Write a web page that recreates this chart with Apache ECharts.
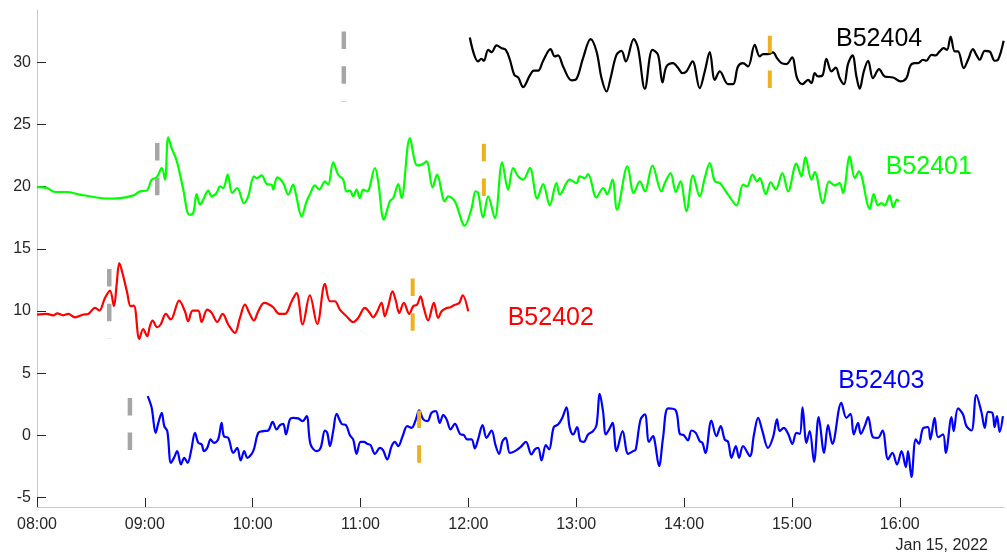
<!DOCTYPE html>
<html>
<head>
<meta charset="utf-8">
<script src="https://cdn.jsdelivr.net/npm/echarts@6/dist/echarts.min.js"></script>
<style>html,body{margin:0;padding:0;background:#fff}#c{width:1007px;height:559px}</style>
</head>
<body>
<div id="c"></div>
<script>
// x values: minutes after 08:00 on Jan 15, 2022
const xTickValues = [0, 60, 120, 180, 240, 300, 360, 420, 480];
const xTickLabels = ['08:00', '09:00', '10:00', '11:00', '12:00', '13:00', '14:00', '15:00', '16:00'];
const yTickValues = [-5, 0, 5, 10, 15, 20, 25, 30];
const dateLabel = 'Jan 15, 2022';
const seriesNames = ['B52404', 'B52401', 'B52402', 'B52403'];

const b52404 = [[240.8,31.99],[245.4,30.07],[247.3,30.28],[248.6,30.12],[251,31.0],[252.9,30.81],[255.7,31.35],[258.5,31.13],[260.8,31.0],[263.1,30.2],[265.5,29.0],[267.7,28.78],[270.5,28.0],[274.2,28.94],[276.4,29.32],[278.8,29.32],[281.6,30.12],[285.7,31.05],[288.1,30.47],[289.9,30.55],[292.7,29.66],[297.4,28.54],[300.2,28.67],[303.8,30.33],[308,31.86],[311.3,30.87],[314.1,28.72],[316.9,27.65],[319.1,28.72],[322.4,30.6],[325.2,30.92],[327.6,30.07],[332,31.86],[334.4,31.13],[338.2,27.87],[342.4,31.0],[345.5,30.6],[348,28.38],[350.2,29.66],[353.9,29.93],[356.7,29.53],[359.1,29.12],[361.3,29.26],[364.7,30.07],[368.7,27.92],[371.5,29.26],[374.3,30.81],[377.1,28.59],[379.9,29.26],[384.5,28.24],[387.3,28.24],[390,29.66],[392.8,29.93],[395.6,29.66],[399.3,31.4],[402.1,30.47],[404,30.65],[406.7,30.65],[409.5,30.79],[411.7,30.33],[414.2,29.93],[417,29.85],[420.1,30.39],[422.9,28.72],[425.9,28.24],[429,28.59],[430.9,28.32],[432.7,29.12],[434.5,28.86],[437,28.94],[439.2,30.28],[442,29.26],[444.4,29.58],[446.6,28.72],[449,28.24],[451.2,29.85],[453.7,30.55],[455.9,28.86],[457.7,27.87],[460,29.26],[462.4,30.12],[465.1,28.72],[468.5,29.45],[471.6,28.86],[476.3,28.78],[480.4,28.46],[483.7,28.72],[485.9,29.72],[488.3,29.93],[490.2,29.93],[492.9,30.2],[494.8,30.12],[497.6,30.6],[500,30.55],[502.2,30.87],[504.4,31.13],[506.3,31.0],[508.3,32.07],[510.6,30.87],[512.4,30.87],[515.6,29.53],[518,30.2],[520.7,31.05],[522.6,30.6],[524.5,30.2],[527.3,30.92],[530,30.87],[532.8,30.12],[534.7,30.2],[537.8,31.73]];

const b52401 = [[0,19.97],[5.4,19.9],[10,19.57],[16.5,19.57],[23.9,19.36],[35,19.09],[42.4,19.04],[53.6,19.3],[57.3,19.62],[61,19.68],[63.8,20.56],[66.6,20.75],[69.4,21.5],[71.2,20.56],[73,23.96],[74.9,23.1],[77.7,22.09],[81.4,19.76],[84.7,17.75],[86.9,17.88],[88.8,19.4],[90.7,18.55],[92.5,18.96],[95.3,19.68],[97.2,19.22],[99.9,19.49],[101.8,20.02],[103.6,19.89],[106.1,20.96],[108.6,19.49],[111.4,19.89],[115.1,18.68],[117.5,19.22],[120.7,20.83],[122.2,20.69],[125,20.91],[127.8,20.21],[130.5,20.16],[131.4,19.76],[133.7,20.75],[137,20.29],[139.8,19.36],[142.5,20.16],[144.1,19.36],[147.2,17.61],[150,18.82],[151.8,19.36],[154.6,20.1],[157,19.76],[160.2,20.43],[162,20.16],[164.8,21.95],[167.6,20.96],[170.4,20.56],[172.2,19.62],[174.1,19.68],[175.9,19.22],[177.8,19.76],[179.6,19.09],[181.5,19.76],[183.7,19.62],[188,21.5],[189.8,20.43],[193,17.35],[196.3,18.82],[198.2,19.09],[201,20.21],[202.8,19.09],[207.5,23.9],[211.5,21.71],[214,21.77],[216.7,22.03],[220.1,19.94],[222.6,20.96],[226.9,18.82],[228.8,19.22],[232.5,18.82],[238,16.87],[241.8,18.28],[244,19.62],[245.4,19.49],[248.2,17.53],[251,19.22],[254.7,17.48],[258.8,21.95],[262.1,19.76],[264.9,21.5],[267.7,20.83],[270.5,20.56],[274.2,21.5],[278.3,19.04],[281.6,20.21],[285.3,18.5],[289,20.29],[290.9,19.36],[296.4,20.56],[300.2,20.29],[302,20.83],[304.8,20.69],[306.6,21.01],[311.3,19.14],[315,19.89],[317.2,19.4],[320.2,20.56],[322.7,18.15],[328.5,21.63],[332,19.49],[335.4,20.43],[338.2,19.62],[342.4,21.69],[347.4,19.62],[349.3,20.29],[352.5,21.09],[355.4,19.57],[358,20.43],[361.3,18.02],[365,20.91],[368.7,19.22],[371.5,20.69],[374.3,21.9],[377.1,20.43],[379.9,20.29],[382.6,19.76],[384.5,19.36],[389.2,18.5],[392.8,20.16],[395,20.02],[398.1,20.96],[400.6,20.43],[402.1,20.69],[405.5,19.4],[408.2,20.35],[411,19.76],[414.7,21.09],[417.9,19.62],[422.5,21.85],[425.3,20.83],[427.5,22.38],[430.9,20.56],[432.7,21.17],[437.3,18.68],[440.7,20.43],[443.8,20.1],[446.6,20.29],[448.4,19.49],[452.2,22.43],[455,20.69],[457.3,21.23],[463.3,18.23],[465.5,19.4],[467.9,18.5],[469.8,18.68],[471.6,18.5],[474.4,19.3],[476.3,18.34],[478.5,18.96],[479.6,18.82]];

const b52402 = [[0,9.72],[5.4,9.77],[9.1,9.66],[11.3,9.82],[14.6,9.66],[17.4,9.77],[21.1,9.5],[25.8,9.72],[28.5,9.77],[32.3,10.25],[34.7,10.04],[37.8,11.05],[40.6,11.65],[42.8,10.39],[44.3,12.13],[45.8,13.86],[48,12.8],[50.2,11.45],[52.1,10.39],[53.9,10.44],[56.9,7.76],[59.1,8.56],[61.3,7.98],[62.8,8.78],[64.3,9.24],[66.9,8.7],[68.8,8.92],[71.7,9.77],[74.4,9.32],[79.1,10.84],[82.3,9.98],[84.1,9.18],[86.6,10.04],[89.7,10.04],[91.6,9.12],[94.7,10.12],[97.2,9.85],[100.3,9.12],[103.3,9.77],[106.4,8.92],[110.1,8.24],[112.9,9.45],[115.7,10.52],[118.1,9.85],[120.7,9.24],[123.1,9.98],[126.4,10.65],[128.6,10.57],[131.4,10.31],[134.8,9.77],[137.9,9.77],[141.7,10.79],[144.4,11.45],[147.8,8.92],[151.8,11.27],[155.9,8.96],[160.2,12.18],[163,10.79],[165.7,10.79],[168.5,10.12],[172.2,9.58],[175.9,9.12],[178.7,9.45],[182.4,10.25],[184.8,9.93],[187,9.5],[188.9,9.85],[191.7,10.65],[193.5,9.58],[195.4,10.39],[197.8,11.59],[199.7,10.79],[201.5,9.85],[204.1,10.65],[207.1,9.77],[209.3,10.39],[211.5,10.52],[213.4,11.19],[215.2,10.25],[217.6,9.24],[220.8,10.65],[223.2,9.45],[225.1,9.98],[227.9,10.25],[230.1,10.31],[231.9,10.47],[234.9,10.65],[236.8,11.27],[239.9,9.98]];

const b52403 = [[61.6,3.16],[63.8,2.22],[66,0.21],[67.5,1.01],[69.4,1.82],[70.8,0.75],[72.5,0.35],[74.5,-2.2],[76.2,-1.8],[78,-1.26],[80.1,-2.33],[81.9,-1.8],[83.8,-2.2],[85.7,-1.26],[87.9,0.21],[89.7,-0.59],[91.6,-0.72],[92.9,-1.26],[94.7,-1.0],[96.6,-0.32],[98.4,-0.59],[100.8,-0.32],[102.7,1.01],[104,-0.06],[106.4,-0.19],[109.2,-1.4],[111.4,-1.0],[113.3,-2.01],[115.3,-1.26],[117,-1.8],[120.3,-1.26],[123.1,0.21],[125.9,0.35],[128.6,0.4],[131.1,1.09],[133.3,0.48],[135.2,0.83],[137,0.93],[138.5,0.08],[140.7,1.29],[142.5,1.41],[145.3,1.37],[147.8,1.15],[150,1.55],[152.2,-0.72],[155.6,-1.26],[157.8,-1.0],[160.2,0.4],[161.5,0.21],[163,-0.86],[164.8,0.35],[166.7,1.73],[169.5,0.93],[171.9,0.83],[174.1,0.02],[175.9,-0.32],[177.8,-1.48],[180,-0.51],[181.9,-0.51],[183.7,-0.67],[185.6,-0.78],[188,-1.48],[190.8,-1.0],[192.6,-1.2],[194.8,-1.93],[197.3,-0.86],[199.1,-0.51],[201,-0.86],[203.4,-0.06],[206,0.75],[208.4,0.61],[210.8,1.29],[212.6,2.01],[214.9,1.29],[217.3,1.15],[219.5,1.82],[221.9,1.95],[224.1,1.01],[226,1.63],[227.9,1.29],[230.1,0.48],[232.5,0.93],[235.3,0.13],[237.5,0.02],[239.3,-0.32],[241.8,-0.32],[243.6,-1.04],[245.4,-0.32],[247.9,0.83],[250.1,-0.19],[252.9,0.4],[255.1,-0.78],[257.1,-1.48],[259,-0.46],[260.8,-0.19],[263.1,-1.4],[265.9,-1.26],[269,-0.94],[272,-0.51],[275.1,-1.53],[277,-1.12],[278.8,-1.0],[280.7,-2.01],[283.1,-0.78],[284.9,-1.12],[287.5,0.67],[289.9,0.88],[292.2,1.41],[294.6,2.27],[296.4,0.61],[298.3,0.08],[300.5,0.67],[302.4,-0.46],[304.2,-0.51],[306.6,0.08],[309.4,0.35],[311.3,0.83],[313.1,3.34],[314.9,1.95],[316.5,0.08],[318.3,0.48],[320.2,1.01],[322.4,-1.26],[325.8,0.35],[328.9,-1.48],[331.7,-1.26],[333.1,-1.12],[335.8,1.29],[338.2,1.69],[340.5,-0.51],[342.8,-0.06],[343.7,-0.46],[346.1,-2.47],[348.3,-0.19],[351.1,2.17],[355.4,2.01],[357.6,0.13],[359.8,0.02],[362.2,-0.4],[364.1,0.4],[366.5,0.21],[368.7,-0.46],[370.2,-0.59],[371.9,-1.4],[375.2,1.2],[378,-0.06],[380.4,0.75],[382.6,-0.32],[384.5,-0.51],[386.4,-1.8],[388.8,-0.86],[390.6,-1.8],[392.8,-0.86],[396.6,-1.66],[398.9,0.08],[401.2,1.41],[403.6,0.35],[406.7,-1.0],[409.5,-0.14],[411.7,1.29],[413.2,0.35],[415.5,0.61],[417.9,0.13],[420.3,-0.67],[422.5,0.21],[424.4,0.13],[425.9,2.27],[428.1,-0.59],[429.9,0.35],[432.3,-2.12],[434.9,1.47],[437.9,-1.4],[440.1,0.83],[442.5,-0.67],[447.5,2.62],[450.3,1.41],[452.6,1.73],[454.4,0.08],[456.8,1.01],[458.3,0.13],[460.5,0.75],[462.4,1.47],[465.1,-0.14],[467.9,-0.19],[470.4,0.4],[473.5,-1.93],[475.9,-1.4],[478.5,-2.33],[481,-1.26],[483.4,-2.55],[484.6,-1.26],[486.5,-3.35],[488.9,-0.32],[490.7,-0.67],[492.9,0.56],[495.7,0.67],[497,-0.32],[499.4,1.41],[501.3,-0.14],[504.1,0.08],[505.6,-1.4],[508.8,1.47],[510,0.35],[512.4,2.17],[515.2,1.69],[517.1,0.75],[519.9,0.4],[522.6,3.24],[525.4,1.9],[527.3,0.61],[529.1,1.9],[531.5,1.82],[532.8,0.67],[534.1,1.55],[535.6,0.29],[537.4,1.55]];

// vertical dashed markers: [minute, top value, bottom value]
const grayMarkers = [[170.7, 32.47, 26.85], [66.9, 23.5, 17.92], [40.2, 13.38, 7.78], [51.7, 3.02, -2.52]];
const orangeMarkers = [[248.6, 23.45, 18.0], [209.0, 12.61, 7.16], [212.6, 2.01, -3.44], [407.7, 32.13, 26.68]];

const lineColors = ['#000000', '#00ff00', '#ff0000', '#0000ff'];
const seriesData = [b52404, b52401, b52402, b52403];

const FONT = '"Liberation Sans", Arial, Helvetica, sans-serif';
const series = [];
grayMarkers.forEach(m => series.push({
  type: 'line', data: [[m[0], m[1]], [m[0], m[2]]], symbol: 'none', silent: true, z: 1,
  lineStyle: { color: '#a6a6a6', width: 4.5, type: [17.5, 17.2], cap: 'butt' }
}));
seriesData.forEach((d, i) => series.push({
  type: 'line', name: seriesNames[i], data: d, symbol: 'none', showSymbol: false, z: 2,
  smooth: 0.35,
  lineStyle: { color: lineColors[i], width: 2.2 }
}));
orangeMarkers.forEach(m => series.push({
  type: 'line', data: [[m[0], m[1]], [m[0], m[2]]], symbol: 'none', silent: true, z: 3,
  lineStyle: { color: '#edb120', width: 4, type: [17.5, 17.2], cap: 'butt' }
}));

const labelPos = [[836, 39], [885.7, 167.5], [507.7, 318], [838.3, 381.5]];
const graphics = seriesNames.map((n, i) => ({
  type: 'text', x: labelPos[i][0], y: labelPos[i][1], silent: true,
  style: { text: n, fill: lineColors[i], font: '25px ' + FONT, textAlign: 'left', textVerticalAlign: 'middle', align: 'left', verticalAlign: 'middle' }
}));
graphics.push({
  type: 'text', x: 988, y: 546, silent: true,
  style: { text: dateLabel, fill: '#262626', font: '16px ' + FONT, textAlign: 'right', textVerticalAlign: 'middle', align: 'right', verticalAlign: 'middle' }
});

const chart = echarts.init(document.getElementById('c'), null, { renderer: 'canvas' });
chart.setOption({
  animation: false,
  backgroundColor: '#ffffff',
  grid: { left: 37, right: 3, top: 10, bottom: 52, containLabel: false },
  xAxis: {
    type: 'value', min: 0, max: 538,
    axisLine: { show: true, onZero: false, lineStyle: { color: '#c8c8c8', width: 1 } },
    axisTick: { show: true, inside: true, length: 9, customValues: xTickValues, lineStyle: { color: '#262626', width: 1 } },
    axisLabel: { customValues: xTickValues, margin: 10, color: '#262626', fontSize: 16, fontFamily: FONT,
      formatter: v => xTickLabels[xTickValues.indexOf(Math.round(v))] || '' },
    splitLine: { show: false }
  },
  yAxis: {
    type: 'value', min: -5.75, max: 34.2,
    axisLine: { show: true, onZero: false, lineStyle: { color: '#c8c8c8', width: 1 } },
    axisTick: { show: true, inside: true, length: 9, customValues: yTickValues, lineStyle: { color: '#262626', width: 1 } },
    axisLabel: { customValues: yTickValues, margin: 6, color: '#262626', fontSize: 16, fontFamily: FONT },
    splitLine: { show: false }
  },
  series: series,
  graphic: graphics
});
</script>
</body>
</html>
